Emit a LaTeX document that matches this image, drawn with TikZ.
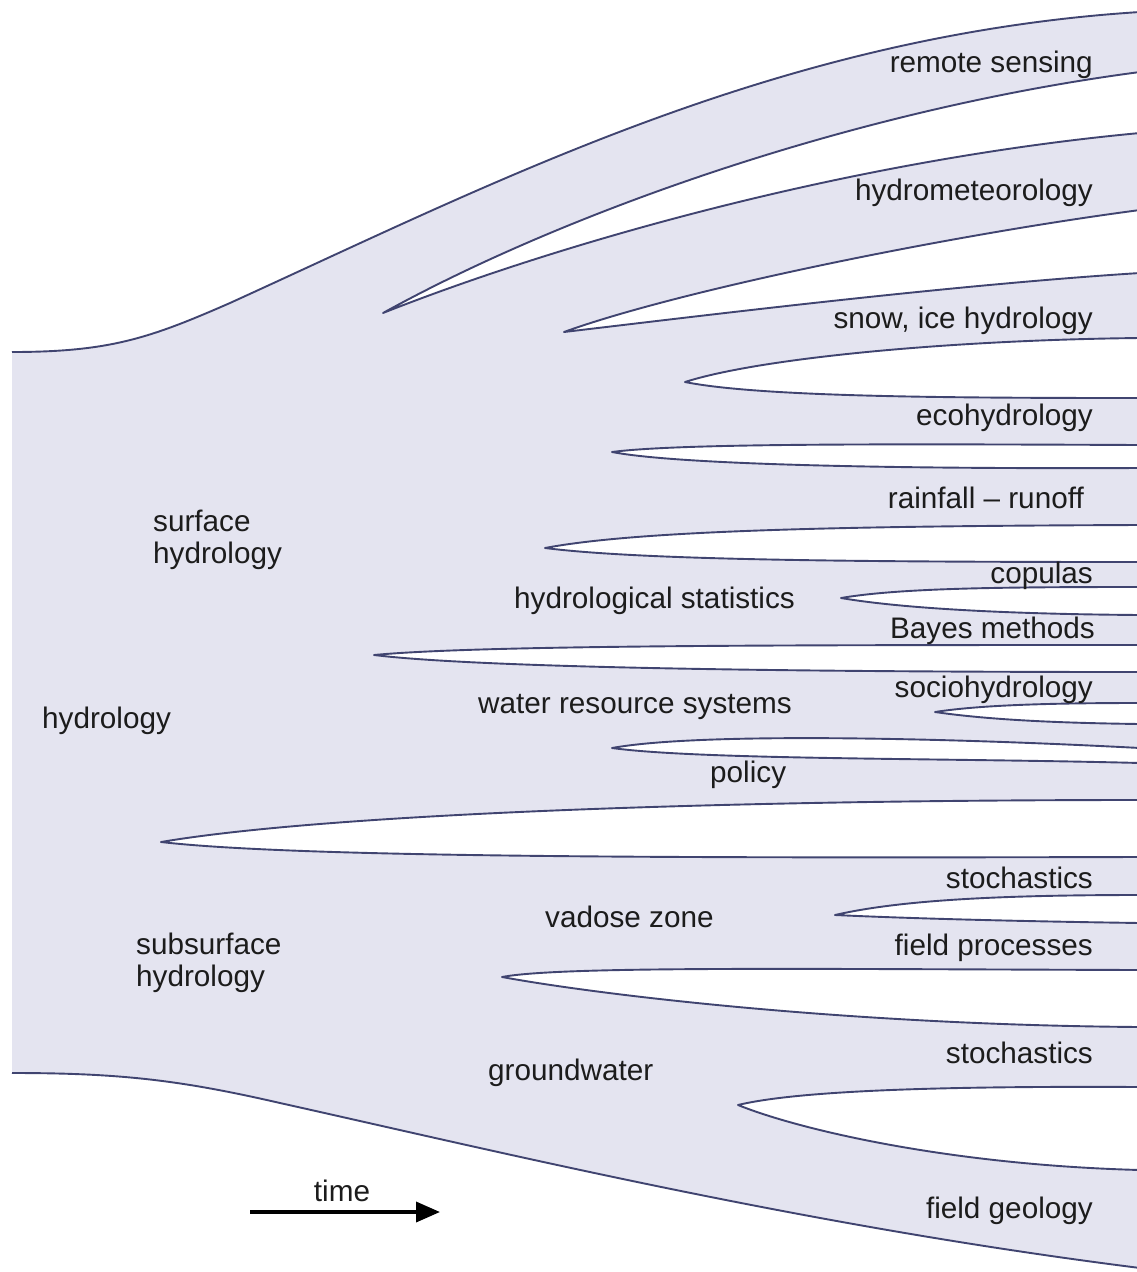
\documentclass[tikz,border=0pt]{standalone}
\usepackage{fontspec}
\setmainfont{Liberation Sans}
\usepackage{xcolor}
\usepackage{tikz}
\usetikzlibrary{arrows.meta}
\definecolor{lav}{RGB}{228,228,240}
\definecolor{ink}{RGB}{64,68,112}
\definecolor{txt}{RGB}{28,28,28}
\newcommand{\labfont}{\fontsize{29.7}{32}\selectfont}
\tikzset{
  body/.style={fill=lav},
  rim/.style={draw=ink, line width=1.9pt},
  gap/.style={fill=white, draw=ink, line width=1.9pt, line join=round},
  lab/.style={font=\labfont, text=txt, inner sep=0pt},
  leftlab/.style={lab, anchor=base west},
  rightlab/.style={lab, anchor=base east},
  arrow/.style={-{Triangle[length=24pt,width=20pt]}, line width=3.6pt},
}

\begin{document}
\begin{tikzpicture}[x=1pt,y=-1pt]
\useasboundingbox (0,0) rectangle (1137,1272);
% body of the tree
\fill[body] (12,352) .. controls (110,352) and (150,338) .. (230,303)
  .. controls (500,180) and (780,35) .. (1140,12) -- (1140,1268)
  .. controls (800,1225) and (500,1152) .. (280,1103)
  .. controls (180,1080) and (120,1073) .. (12,1073) -- cycle;
\draw[rim] (12,352) .. controls (110,352) and (150,338) .. (230,303)
  .. controls (500,180) and (780,35) .. (1140,12);
\draw[rim] (12,1073) .. controls (120,1073) and (180,1080) .. (280,1103)
  .. controls (500,1152) and (800,1225) .. (1140,1268);
% gaps between branches
\filldraw[gap] (1140,72) .. controls (850,110) and (560,215) .. (383,313)
  .. controls (560,243) and (850,160) .. (1140,133);
\filldraw[gap] (1140,210) .. controls (950,235) and (680,290) .. (564,332)
  .. controls (700,316) and (950,285) .. (1140,273);
\filldraw[gap] (1140,338) .. controls (950,340) and (760,358) .. (685,382)
  .. controls (760,397) and (950,398) .. (1140,398);
\filldraw[gap] (1140,445) .. controls (900,444) and (680,443) .. (612,452)
  .. controls (680,465) and (900,469) .. (1140,468);
\filldraw[gap] (1140,525) .. controls (850,526) and (640,530) .. (545,548)
  .. controls (640,560) and (850,562) .. (1140,562);
\filldraw[gap] (1140,587) .. controls (1000,587) and (900,588) .. (841,598)
  .. controls (900,608) and (1000,614) .. (1140,615);
\filldraw[gap] (1140,645) .. controls (800,645) and (480,645) .. (374,655)
  .. controls (480,668) and (800,672) .. (1140,672);
\filldraw[gap] (1140,703) .. controls (1050,703) and (980,705) .. (935,712)
  .. controls (990,720) and (1060,723) .. (1140,724);
\filldraw[gap] (1140,748) .. controls (950,738) and (700,732) .. (612,748)
  .. controls (700,760) and (950,758) .. (1140,763);
\filldraw[gap] (1140,800) .. controls (700,800) and (320,815) .. (161,842)
  .. controls (300,858) and (700,858) .. (1140,857);
\filldraw[gap] (1140,895) .. controls (1000,895) and (900,900) .. (835,915)
  .. controls (900,918) and (1000,921) .. (1140,923);
\filldraw[gap] (1140,970) .. controls (800,969) and (560,966) .. (502,977)
  .. controls (600,995) and (850,1025) .. (1140,1027);
\filldraw[gap] (1140,1087) .. controls (950,1086) and (800,1090) .. (738,1105)
  .. controls (800,1130) and (950,1165) .. (1140,1170);
% branch names
\node[lab, anchor=base west] (hyd) at (42,728) {hydrology};
\node[lab, anchor=west, align=left] (surf) at (153,540) {surface\\hydrology};
\node[lab, anchor=west, align=left] (subs) at (136,963) {subsurface\\hydrology};
\node[leftlab] (stat) at (514,608) {hydrological statistics};
\node[leftlab] (wrs) at (478,713) {water resource systems};
\node[leftlab] (pol) at (710,782) {policy};
\node[leftlab] (vad) at (545,927) {vadose zone};
\node[leftlab] (gw) at (488,1080) {groundwater};
\node[rightlab] (rs) at (1093,72) {remote sensing};
\node[rightlab] (met) at (1093,200) {hydrometeorology};
\node[rightlab] (snow) at (1093,328) {snow, ice hydrology};
\node[rightlab] (eco) at (1093,425) {ecohydrology};
\node[rightlab] (rr) at (1084,508) {rainfall -- runoff};
\node[rightlab] (cop) at (1093,583) {copulas};
\node[rightlab] (bay) at (1095,638) {Bayes methods};
\node[rightlab] (soc) at (1093,697) {sociohydrology};
\node[rightlab] (sto1) at (1093,888) {stochastics};
\node[rightlab] (fp) at (1093,955) {field processes};
\node[rightlab] (sto2) at (1093,1063) {stochastics};
\node[rightlab] (fg) at (1093,1218) {field geology};
% time arrow
\coordinate (t0) at (250,1212);
\coordinate (t1) at (440,1212);
\draw[arrow] (t0) -- (t1);
\node[lab, anchor=base] (time) at (342,1201) {time};
\end{tikzpicture}
\end{document}
